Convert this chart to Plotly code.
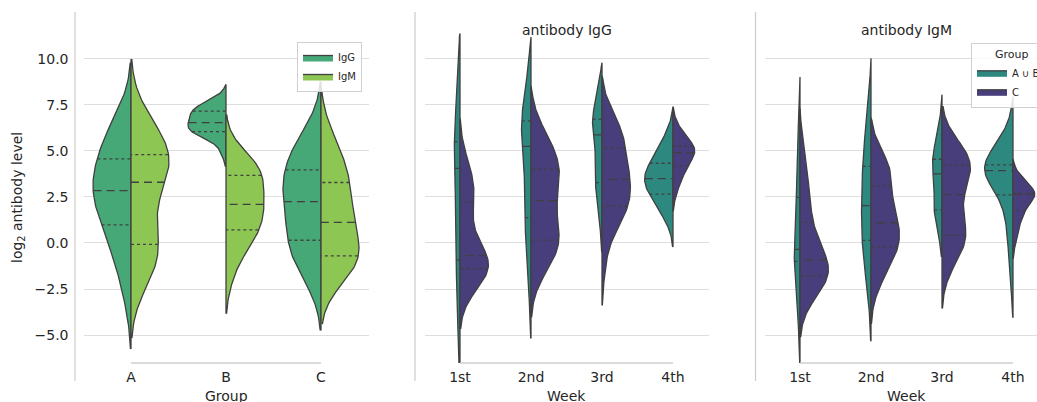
import numpy as np
import plotly.graph_objects as go

# ---------------- data (log2 antibody level samples) ----------------
groups = ["A", "B", "C"]
antibodies = ["IgG", "IgM"]
weeks = ["1st", "2nd", "3rd", "4th"]
week_hues = ["A ∪ B", "C"]
y_ticks = [-5.0, -2.5, 0.0, 2.5, 5.0, 7.5, 10.0]
y_tick_text = ["−5.0", "−2.5", "0.0", "2.5", "5.0", "7.5", "10.0"]

# panel 1: by group, split by antibody
grp_A_IgG = [-3.0, -1.6, -0.9, -0.2, 0.4, 0.8, 1.05, 1.5, 1.9, 2.3, 2.6, 2.75,
             2.95, 3.2, 3.5, 3.8, 4.2, 4.5, 4.8, 5.2, 5.6, 6.0, 6.5, 7.0]
grp_A_IgM = [-2.2, -1.7, -1.2, -0.8, -0.5, -0.3, 0.0, 0.6, 1.2, 1.9, 2.6, 3.1,
             3.5, 3.8, 4.1, 4.35, 4.55, 4.75, 4.95, 5.2, 5.5, 5.9, 6.4, 7.0]
grp_B_IgG = [4.9, 5.5, 5.8, 5.9, 5.97, 6.02, 6.06, 6.15, 6.3, 6.4, 6.47, 6.52,
             6.56, 6.7, 6.85, 6.95, 7.05, 7.15, 7.22, 7.28, 7.36, 7.45, 7.6, 7.85]
grp_B_IgM = [-1.9, -0.8, -0.3, 0.1, 0.35, 0.6, 0.75, 1.1, 1.35, 1.6, 1.85, 2.0,
             2.2, 2.45, 2.7, 3.0, 3.25, 3.62, 3.85, 3.95, 4.1, 4.25, 4.45, 5.0]
grp_C_IgG = [-2.2, -1.6, -1.1, -0.7, -0.35, 0.0, 0.2, 0.55, 0.95, 1.4, 1.8, 2.1,
             2.4, 2.7, 3.0, 3.25, 3.55, 3.9, 4.2, 4.5, 4.85, 5.25, 5.7, 6.2]
grp_C_IgM = [-1.9, -1.6, -1.4, -1.2, -1.0, -0.85, -0.65, -0.4, -0.1, 0.3, 0.7, 1.0,
             1.25, 1.6, 2.0, 2.4, 2.8, 3.2, 3.55, 3.8, 4.2, 4.7, 5.3, 6.0]

# panel 2: antibody IgG by week, split by group
IgG_AB_w1 = [-2.3, -2.1, 2.65, 5.45, 5.52, 6.0]
IgG_C_w1 = [-2.5, -2.2, -2.0, -1.85, -1.7, -1.6, -1.5, -1.42, -1.3, -1.2, -1.1, -1.0,
            -0.9, -0.8, -0.72, -0.66, -0.4, 0.0, 0.5, 1.0, 1.5, 2.0, 2.3, 2.55,
            2.8, 3.1, 3.4, 3.7, 4.1, 4.6]
IgG_AB_w2 = [-1.2, 0.0, 1.0, 2.5, 4.9, 5.6, 6.3, 6.75, 7.0, 7.2]
IgG_C_w2 = [-1.7, -1.2, -0.9, -0.6, -0.4, -0.2, 0.0, 0.12, 0.28, 0.5, 0.8, 1.1,
            1.45, 1.8, 2.15, 2.45, 2.75, 3.05, 3.3, 3.55, 3.75, 3.9, 4.05, 4.35,
            4.6, 4.85, 5.15, 5.45, 5.8, 6.2]
IgG_AB_w3 = [2.0, 2.8, 3.1, 3.8, 5.6, 6.15, 6.5, 6.8, 7.0, 7.3]
IgG_C_w3 = [-1.3, 0.2, 0.8, 1.2, 1.45, 1.65, 1.8, 1.95, 2.15, 2.35, 2.6, 2.8,
            3.0, 3.2, 3.38, 3.54, 3.7, 3.9, 4.15, 4.4, 4.7, 5.0, 5.2, 5.4,
            5.65, 5.9, 6.15, 6.4, 6.7, 7.0]
IgG_AB_w4 = [1.05, 1.5, 1.8, 2.0, 2.2, 2.35, 2.5, 2.62, 2.78, 2.9, 3.05, 3.15,
             3.27, 3.38, 3.45, 3.55, 3.65, 3.75, 3.88, 4.0, 4.12, 4.25, 4.36, 4.5,
             4.7, 4.9, 5.15, 5.4, 5.7, 6.1]
IgG_C_w4 = [2.7, 3.2, 3.5, 3.75, 3.95, 4.1, 4.26, 4.4, 4.55, 4.68, 4.8, 4.91,
            5.0, 5.07, 5.13, 5.2, 5.24, 5.3, 5.45, 5.65, 5.85, 6.1, 6.4]

# panel 3: antibody IgM by week, split by group
IgM_AB_w1 = [-2.5, -1.1, -0.7, 0.0, 3.31, 5.0]
IgM_C_w1 = [-2.9, -2.6, -2.4, -2.25, -2.1, -2.0, -1.9, -1.82, -1.72, -1.6, -1.5, -1.4,
            -1.25, -1.12, -0.98, -0.82, -0.65, -0.45, -0.2, 0.1, 0.45, 0.9, 1.2, 1.6,
            2.1, 2.6, 3.1, 3.6, 4.3, 5.1]
IgM_AB_w2 = [-1.9, -0.6, -0.15, 1.0, 1.7, 2.35, 3.6, 4.35, 5.2, 6.6]
IgM_C_w2 = [-2.35, -1.8, -1.4, -1.1, -0.85, -0.6, -0.4, -0.25, -0.08, 0.1, 0.28, 0.45,
            0.62, 0.8, 1.0, 1.2, 1.4, 1.6, 1.85, 2.1, 2.4, 2.8, 3.2, 3.4,
            3.65, 3.9, 4.1, 4.3, 4.5, 4.75]
IgM_AB_w3 = [1.3, 1.5, 1.6, 2.4, 3.45, 4.05, 4.4, 4.6, 4.85, 6.0]
IgM_C_w3 = [-1.45, -0.9, -0.5, -0.2, 0.0, 0.15, 0.28, 0.38, 0.5, 0.8, 1.1, 1.4,
            1.75, 2.1, 2.45, 2.8, 3.1, 3.35, 3.55, 3.75, 3.9, 4.1, 4.25, 4.4,
            4.55, 4.7, 4.85, 5.0, 5.2, 5.3]
IgM_AB_w4 = [-2.1, -1.0, -0.1, 0.6, 1.3, 1.8, 2.2, 2.5, 2.95, 3.2, 3.4, 3.55,
             3.68, 3.78, 3.86, 4.0, 4.06, 4.1, 4.14, 4.18, 4.2, 4.22, 4.25, 4.45,
             4.7, 4.95, 5.2, 5.45, 5.7, 6.0]
IgM_C_w4 = [0.1, 0.6, 1.0, 1.3, 1.5, 1.68, 1.84, 2.0, 2.2, 2.4, 2.55, 2.65,
            2.66, 2.67, 2.68, 2.69, 2.69, 2.71, 2.9, 3.1, 3.3, 3.45, 3.6]

# ---------------- style ----------------
W, H = 1037, 402
EDGE = "#404040"
LW = 1.3
GRID_C = "#dedede"
SPINE_C = "#cfcfcf"
TEXT_C = "#262626"
FONT = "DejaVu Sans"
COL_P1 = ["#45a876", "#8dc652"]
COL_WK = ["#2d8980", "#483e7c"]
HALF = 0.4      # half of violin width 0.8
CUT = 2.0
GRIDSIZE = 120


def px_x(p):
    return p / W


def px_y(p):
    return 1 - p / H


def kde(sample):
    x = np.asarray(sample, float)
    n = x.size
    bw = x.std(ddof=1) * n ** (-0.2)          # Scott's rule
    sup = np.linspace(x.min() - CUT * bw, x.max() + CUT * bw, GRIDSIZE)
    z = (sup[:, None] - x[None, :]) / bw
    dens = np.exp(-0.5 * z ** 2).sum(axis=1) / (n * bw * np.sqrt(2 * np.pi))
    return sup, dens


fig = go.Figure()


def add_panel(ax, left, right, colors, names, legend_id):
    xa = "x" if ax == 1 else f"x{ax}"
    ya = "y" if ax == 1 else f"y{ax}"
    nmax = max(len(s) for s in left + right)
    for i, pair in enumerate(zip(left, right)):
        for side, s, col, name in ((-1, pair[0], colors[0], names[0]),
                                   (1, pair[1], colors[1], names[1])):
            sup, d = kde(s)
            w = d / d.max() * len(s) / nmax * HALF
            xs = np.concatenate([i + side * w, np.full(sup.size, float(i))])
            ys = np.concatenate([sup, sup[::-1]])
            fig.add_trace(go.Scatter(
                x=xs, y=ys, mode="lines", fill="toself", fillcolor=col,
                line=dict(color=EDGE, width=LW), name=name,
                showlegend=(legend_id is not None and i == 0),
                legend=legend_id if legend_id else "legend",
                xaxis=xa, yaxis=ya, hoverinfo="skip"))
            for q, dash in ((25, "3px,3px"), (50, "8px,5px"), (75, "3px,3px")):
                v = float(np.percentile(s, q))
                k = int(np.argmin(np.abs(sup - v)))
                wq = w[k] * 0.99
                fig.add_trace(go.Scatter(
                    x=[i + side * wq, i], y=[v, v], mode="lines",
                    line=dict(color=EDGE, width=LW, dash=dash),
                    showlegend=False, xaxis=xa, yaxis=ya, hoverinfo="skip"))


add_panel(1, [grp_A_IgG, grp_B_IgG, grp_C_IgG], [grp_A_IgM, grp_B_IgM, grp_C_IgM],
          COL_P1, antibodies, "legend")
add_panel(2, [IgG_AB_w1, IgG_AB_w2, IgG_AB_w3, IgG_AB_w4],
          [IgG_C_w1, IgG_C_w2, IgG_C_w3, IgG_C_w4], COL_WK, week_hues, None)
add_panel(3, [IgM_AB_w1, IgM_AB_w2, IgM_AB_w3, IgM_AB_w4],
          [IgM_C_w1, IgM_C_w2, IgM_C_w3, IgM_C_w4], COL_WK, week_hues, "legend2")

# ---------------- axes ----------------
x_domains = [(83.5, 368.5), (424.5, 708.5), (764.5, 1037.0)]
x_ranges = [[-0.5, 2.5], [-0.5, 3.5], [-0.5, 3.5 - 11.5 / 71.0]]
x_cats = [groups, weeks, weeks]
y_dom = [px_y(363), px_y(12)]
y_range = [-6.52, 12.55]

layout_axes = {}
for k in range(3):
    sx = "xaxis" if k == 0 else f"xaxis{k + 1}"
    sy = "yaxis" if k == 0 else f"yaxis{k + 1}"
    layout_axes[sx] = dict(
        domain=[px_x(x_domains[k][0]), px_x(x_domains[k][1])],
        range=x_ranges[k], anchor="y" if k == 0 else f"y{k + 1}",
        tickmode="array", tickvals=list(range(len(x_cats[k]))), ticktext=x_cats[k],
        showgrid=False, zeroline=False, showline=False, ticks="",
        tickfont=dict(size=14, color=TEXT_C), ticklabelstandoff=4, fixedrange=True)
    layout_axes[sy] = dict(
        domain=y_dom, range=y_range, anchor="x" if k == 0 else f"x{k + 1}",
        tickmode="array", tickvals=y_ticks, ticktext=y_tick_text,
        showticklabels=(k == 0), showgrid=True, gridcolor=GRID_C, gridwidth=1,
        zeroline=False, showline=False, ticks="",
        tickfont=dict(size=14, color=TEXT_C), ticklabelstandoff=14, fixedrange=True)

shapes = []
spine_x = [75, 415, 755.5]
for k in range(3):
    shapes.append(dict(type="line", xref="paper", yref="paper",
                       x0=px_x(spine_x[k]), x1=px_x(spine_x[k]),
                       y0=px_y(381), y1=px_y(12),
                       line=dict(color=SPINE_C, width=1.3)))
    shapes.append(dict(type="line", xref="x" if k == 0 else f"x{k + 1}", yref="paper",
                       x0=0, x1=len(x_cats[k]) - 1, y0=px_y(363), y1=px_y(363),
                       line=dict(color=SPINE_C, width=1.3)))

p3_mid = 0.5 * (1048.5 - 764.5) / (1037 - 764.5)
annotations = [
    dict(text="antibody IgG", xref="x2 domain", yref="paper", x=0.5, y=px_y(30),
         xanchor="center", yanchor="middle", showarrow=False, font=dict(size=14)),
    dict(text="antibody IgM", xref="x3 domain", yref="paper", x=p3_mid,
         y=px_y(30), xanchor="center", yanchor="middle", showarrow=False, font=dict(size=14)),
    dict(text="Group", xref="x domain", yref="paper", x=0.5, y=px_y(396),
         xanchor="center", yanchor="middle", showarrow=False, font=dict(size=14)),
    dict(text="Week", xref="x2 domain", yref="paper", x=0.5, y=px_y(396),
         xanchor="center", yanchor="middle", showarrow=False, font=dict(size=14)),
    dict(text="Week", xref="x3 domain", yref="paper", x=p3_mid,
         y=px_y(396), xanchor="center", yanchor="middle", showarrow=False, font=dict(size=14)),
    dict(text="log<sub>2</sub> antibody level", xref="paper", yref="paper",
         x=px_x(17.5), y=px_y(197.5), textangle=-90, xanchor="center", yanchor="middle",
         showarrow=False, font=dict(size=14)),
]

fig.update_layout(
    width=W, height=H,
    margin=dict(l=0, r=0, t=0, b=0, pad=0, autoexpand=False),
    paper_bgcolor="white", plot_bgcolor="white",
    font=dict(family=FONT, size=14, color=TEXT_C),
    shapes=shapes, annotations=annotations,
    legend=dict(x=px_x(362), xanchor="right", y=px_y(42), yanchor="top",
                bgcolor="rgba(255,255,255,0.85)", bordercolor="#d0d0d0", borderwidth=1,
                font=dict(size=10, color=TEXT_C), itemwidth=30, tracegroupgap=0),
    legend2=dict(x=px_x(971), xanchor="left", y=px_y(43), yanchor="top",
                 bgcolor="rgba(255,255,255,0.85)", bordercolor="#d0d0d0", borderwidth=1,
                 font=dict(size=10, color=TEXT_C), itemwidth=30, tracegroupgap=0,
                 title=dict(text="      Group", font=dict(size=11, color=TEXT_C), side="top")),
    **layout_axes,
)

fig.write_html("out.html", config={"displayModeBar": False},
               post_script="document.body.style.margin='0px';")
